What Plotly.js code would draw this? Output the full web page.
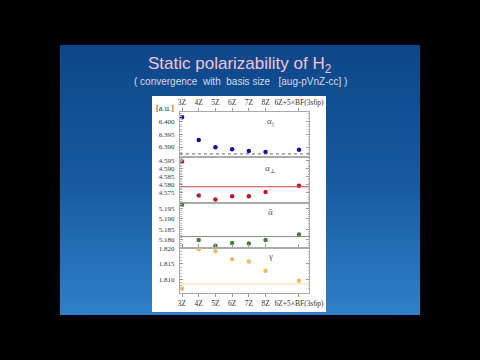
<!DOCTYPE html>
<html><head><meta charset="utf-8">
<script src="https://cdn.plot.ly/plotly-3.0.1.min.js"></script>
<style>
html,body{margin:0;padding:0;background:#000;width:480px;height:360px;overflow:hidden;}
#slide{position:absolute;left:60px;top:45px;width:360px;height:270px;background:linear-gradient(180deg,#0d4689 0%,#165aa0 50%,#2f80c6 100%);}
#chart{position:absolute;left:0;top:0;width:480px;height:360px;}
</style></head><body>
<div id="slide"></div><div id="chart"></div>
<script>
const basisX = [3, 4, 5, 6, 7, 8, 10];
const basisLabels = ['3Z', '4Z', '5Z', '6Z', '7Z', '8Z', '6Z+5×BF(3s6p)'];
const alphaPar = [6.4016, 6.3927, 6.3899, 6.3891, 6.3884, 6.3881, 6.3889];
const alphaPerp = [4.5942, 4.5734, 4.5710, 4.5730, 4.5730, 4.5756, 4.5794];
const alphaMean = [5.1968, 5.1798, 5.1771, 5.1784, 5.1781, 5.1798, 5.1825];
const gammaAniso = [1.8071, 1.8197, 1.8191, 1.8165, 1.8158, 1.8128, 1.8096];
const refValues = [6.3873, 4.5788, 5.1815, 1.8086];
const panelNames = ['α<sub>||</sub>', 'α<sub>⊥</sub>', 'ᾱ', 'γ'];
const yTicks = [
  [6.390, 6.395, 6.400],
  [4.575, 4.580, 4.585, 4.590, 4.595],
  [5.180, 5.185, 5.190, 5.195],
  [1.810, 1.815, 1.820]
];

const L = 180, R = 309, T = 112, B = 293;
const px = v => (v - L) / (R - L);
const py = v => (B - v) / (B - T);

const serif = 'Liberation Serif, DejaVu Serif, serif';
const markerColors = ['#14148c', '#b81c30', '#4d7a3c', '#e6c068'];
const refColors = ['#666666', '#d0404c', '#8a8a8a', '#f0dca0'];
const refDash = ['dot', 'solid', 'solid', 'solid'];
const series = [alphaPar, alphaPerp, alphaMean, gammaAniso];
const yAxisIds = ['y', 'y2', 'y3', 'y4'];

const traces = series.map((s, i) => ({
  type: 'scatter', mode: 'markers', x: basisX, y: s,
  xaxis: i === 0 ? 'x2' : 'x', yaxis: yAxisIds[i],
  marker: {size: 4.5, color: markerColors[i]}, showlegend: false, hoverinfo: 'skip'
}));

const yRanges = [[6.386, 6.4037], [4.5692, 4.5968], [5.1761, 5.1979], [1.8057, 1.8202]];
const domains = [[0.75, 1], [0.5, 0.75], [0.25, 0.5], [0, 0.25]];

function yAxis(i) {
  return {
    domain: domains[i], range: yRanges[i], anchor: i === 0 ? 'x2' : 'x',
    tickmode: 'array', tickvals: yTicks[i], ticktext: yTicks[i].map(v => v.toFixed(3)),
    ticks: 'inside', ticklen: 3, tickcolor: '#999',
    showline: true, linecolor: '#aaa', linewidth: 1, mirror: 'allticks',
    showgrid: false, zeroline: false,
    minor: {dtick: 0.001, ticks: 'inside', ticklen: 1.5, tickcolor: '#bbb'},
    tickfont: {family: serif, size: 7, color: '#333'}, ticklabelstandoff: 3
  };
}

const xCommon = {
  range: [2.88, 10.6], tickvals: basisX, ticktext: basisLabels,
  ticks: 'outside', ticklen: 3, tickcolor: '#999',
  showline: true, linecolor: '#aaa', linewidth: 1, showgrid: false, zeroline: false,
  tickfont: {family: serif, size: 7.5, color: '#333'}
};

const shapes = [
  {type: 'rect', xref: 'paper', yref: 'paper', x0: px(152), x1: px(326), y0: py(312), y1: py(96),
   fillcolor: '#ffffff', line: {width: 0}, layer: 'below'}
];
refValues.forEach((v, i) => {
  shapes.push({type: 'line', xref: (i === 0 ? 'x2' : 'x') + ' domain', yref: yAxisIds[i],
    x0: 0, x1: 1, y0: v, y1: v, line: {color: refColors[i], width: 1, dash: refDash[i]}});
});

const labelY = [121, 168, 212, 256];
const ann = (x, y, text, font) => ({xref: 'paper', yref: 'paper', x: px(x), y: py(y), text: text,
  showarrow: false, xanchor: 'center', yanchor: 'middle', font: font});
const annotations = [
  ann(240, 65, 'Static polarizability of H<sub>2</sub>',
    {family: 'Liberation Sans, Arial, sans-serif', size: 17, color: '#f2c4da'}),
  ann(240, 81, '( convergence\u00a0 with\u00a0 basis size \u00a0\u00a0[aug-pVnZ-cc] )',
    {family: 'Liberation Sans, Arial, sans-serif', size: 10, color: '#d6dbe8'}),
  ann(165, 108, '[a.u.]', {family: serif, size: 8.5, color: '#333'})
];
panelNames.forEach((t, i) => {
  annotations.push(ann(270, labelY[i], t, {family: serif, size: 9, color: '#555'}));
});

const layout = {
  width: 480, height: 360,
  margin: {l: L, r: 480 - R, t: T, b: 360 - B},
  paper_bgcolor: 'rgba(0,0,0,0)', plot_bgcolor: '#ffffff',
  showlegend: false,
  xaxis: Object.assign({}, xCommon, {anchor: 'y4', side: 'bottom', mirror: 'all'}),
  xaxis2: Object.assign({}, xCommon, {anchor: 'y', side: 'top', mirror: true, matches: 'x'}),
  yaxis: yAxis(0), yaxis2: yAxis(1), yaxis3: yAxis(2), yaxis4: yAxis(3),
  shapes: shapes, annotations: annotations
};

Plotly.newPlot('chart', traces, layout, {displayModeBar: false, staticPlot: true});
</script>
</body></html>
